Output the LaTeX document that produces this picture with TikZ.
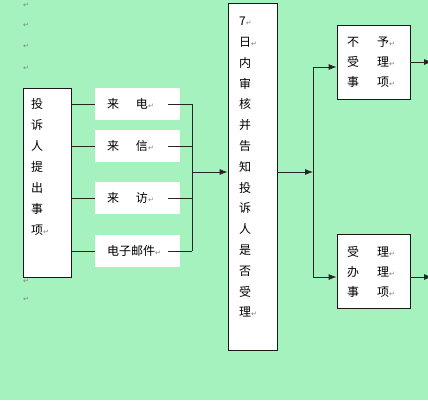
\documentclass[tikz,border=0pt]{standalone}
\usepackage{fontspec}
\setmainfont{Noto Sans CJK SC}
\newfontfamily\symbolfont{DejaVu Sans}
\usetikzlibrary{arrows.meta}
\definecolor{paper}{RGB}{166,242,190}
\newcommand{\retmark}{{\symbolfont\fontsize{7}{7}\selectfont\color{black!50}↵}}
\tikzset{
    x=1pt, y=-1pt,
    textbox/.style={draw=black!90, fill=white, line width=0.8pt, inner sep=0pt},
    source/.style={fill=white, inner xsep=12pt, inner ysep=0pt, text width=61pt, align=left, minimum height=32},
    result/.style={textbox, inner xsep=10pt, inner ysep=0pt, text width=53pt, minimum height=74, align=left, font=\fontsize{12}{20}\selectfont},
    words/.style={inner sep=0pt, anchor=north west, align=left},
    flow/.style={draw=black!85, line width=0.8pt},
    pointer/.style={flow, -{Latex[length=8pt,width=6pt]}}
}

\begin{document}
\begin{tikzpicture}[font=\fontsize{12}{14}\selectfont]
        \clip (0,0) rectangle (428,400);
        \fill[paper] (0,0) rectangle (428,400);

        \node[textbox, minimum width=48, minimum height=189] (tousu) at (47,182.5) {};
        \node[words, font=\fontsize{12}{21}\selectfont] (tousutext) at (31,98)
            {投\\诉\\人\\提\\出\\事\\项\retmark};

        \foreach \y [count=\i] in {5,25,46,68,281,299}
            \node[inner sep=0pt] (mark\i) at (26,\y) {\retmark};

        \node[source] (laidian) at (137.5,104) {来\hspace{17pt}电\retmark};
        \node[source] (laixin) at (137.5,146) {来\hspace{17pt}信\retmark};
        \node[source] (laifang) at (137.5,198) {来\hspace{17pt}访\retmark};
        \node[source] (youjian) at (137.5,251) {电子邮件\retmark};

        \node[textbox, minimum width=49, minimum height=347] (shenhe) at (252.5,176.5) {};
        \node[words, font=\fontsize{12}{20.8}\selectfont] (shenhetext) at (239,17)
            {7\retmark\\日\retmark\\内\\审\\核\\并\\告\\知\\投\\诉\\人\\是\\否\\受\\理\retmark};

        \node[result] (buyu) at (373.5,62)
            {不\hspace{18pt}予\retmark\\受\hspace{18pt}理\retmark\\事\hspace{18pt}项\retmark};
        \node[result] (shouli) at (373.5,271.5)
            {受\hspace{18pt}理\retmark\\办\hspace{18pt}理\retmark\\事\hspace{18pt}项\retmark};

        \coordinate (hub) at (192,172);
        \coordinate (fork) at (313,172);
        \coordinate (buyuin) at ([yshift=-5pt]buyu.west);
        \coordinate (shouliin) at ([yshift=-5.5pt]shouli.west);
        \coordinate (out1) at (432,62);
        \coordinate (out2) at (432,277);

        \foreach \n in {laidian,laixin,laifang,youjian} {
            \draw[flow] (tousu.east |- \n.west) -- (\n.west);
            \draw[flow] ([xshift=-12pt]\n.east) -- (\n.east -| hub);
        }
        \draw[flow] (laidian.east -| hub) -- (youjian.east -| hub);
        \draw[pointer] (hub) -- (shenhe.west |- hub);
        \draw[pointer] (shenhe.east |- fork) -- (fork);
        \draw[flow] (buyuin -| fork) -- (shouliin -| fork);
        \draw[pointer] (buyuin -| fork) -- (buyuin);
        \draw[pointer] (shouliin -| fork) -- (shouliin);
        \draw[pointer] (buyu.east) -- (out1);
        \draw[pointer] (shouli.east |- out2) -- (out2);
\end{tikzpicture}
\end{document}
